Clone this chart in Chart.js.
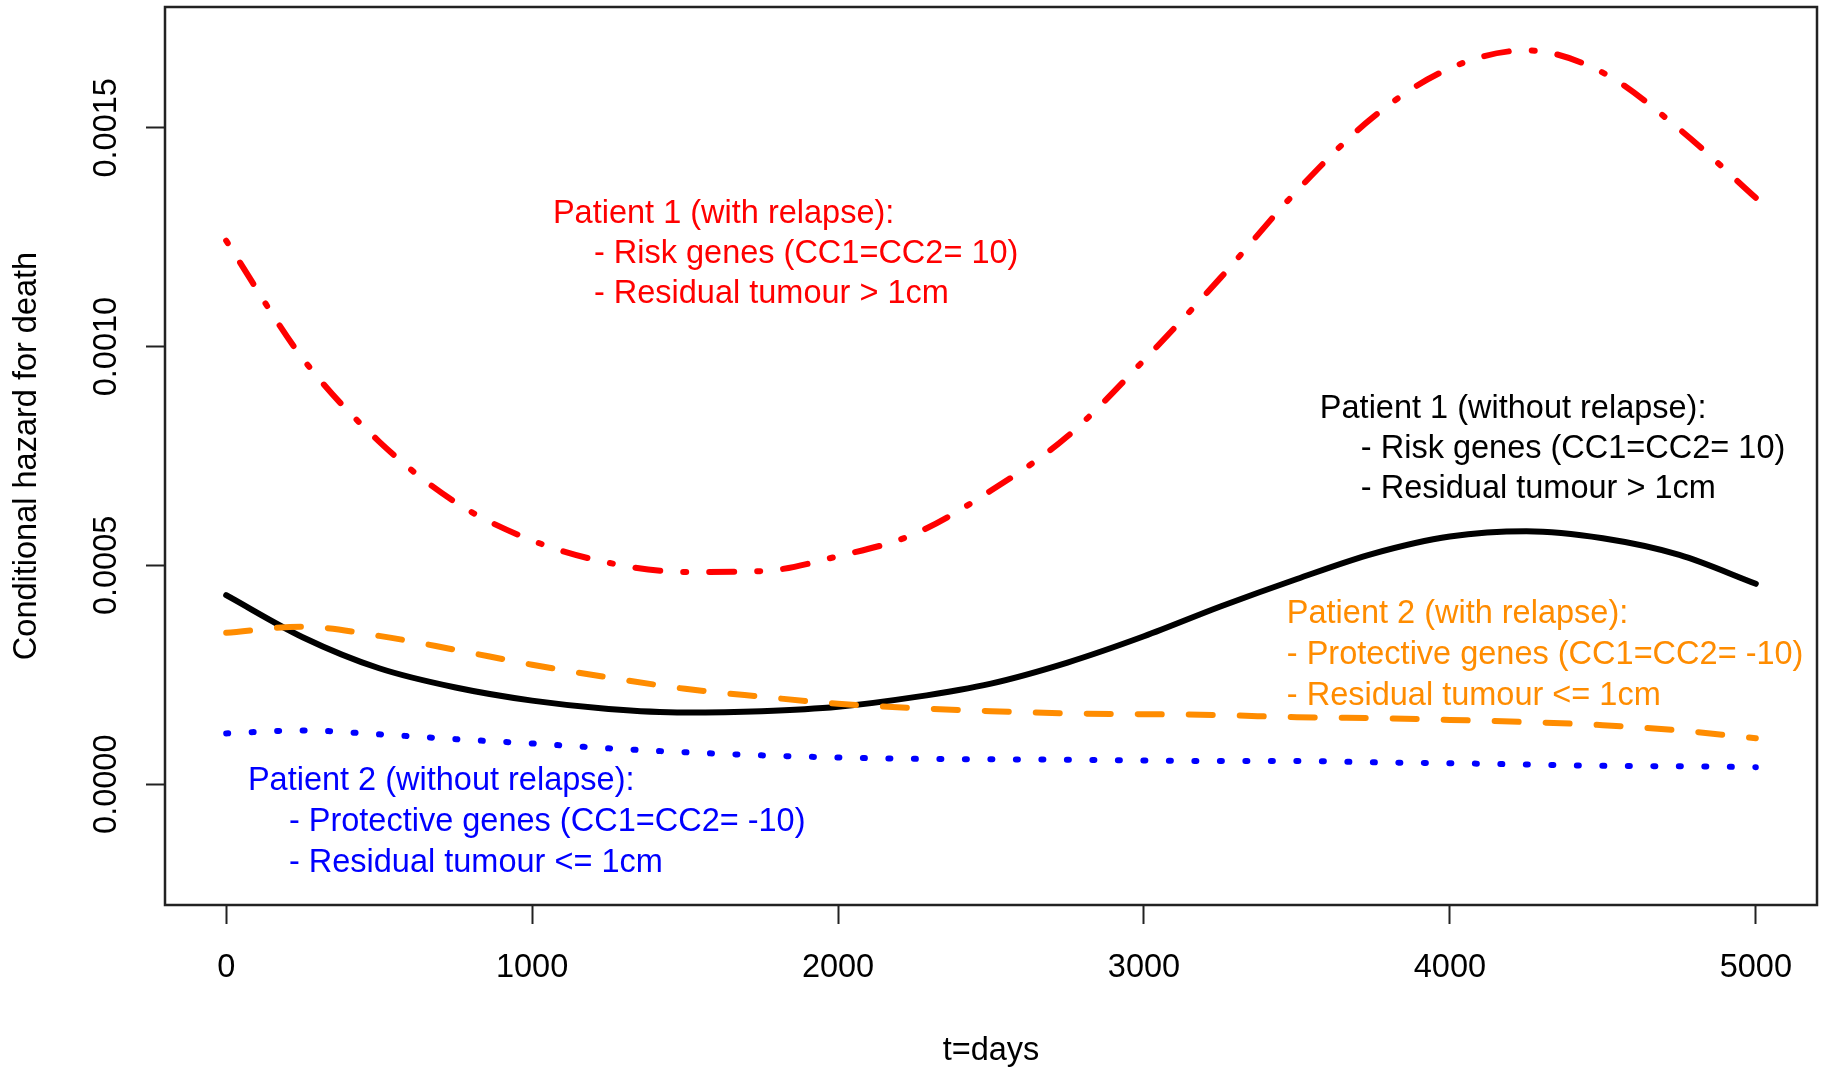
<!DOCTYPE html>
<html>
<head>
<meta charset="utf-8">
<title>Conditional hazard for death</title>
<script src="https://cdn.jsdelivr.net/npm/chart.js@4.4.1/dist/chart.umd.min.js"></script>
<style>
    html, body { margin: 0; padding: 0; background: #fff; }
    #wrap { width: 1832px; height: 1068px; }
</style>
</head>
<body>
<div id="wrap"><canvas id="hazardChart" width="1832" height="1068"></canvas></div>
<script>
// Conditional hazard curves, every 250 days

const days = [0, 250, 500, 750, 1000, 1250, 1500, 1750, 2000, 2250, 2500,
    2750, 3000, 3250, 3500, 3750, 4000, 4250, 4500, 4750, 5000];

const p1WithRelapse = [0.001242, 0.000973, 0.000783, 0.000644, 0.000557, 0.000506, 0.000485,
    0.000487, 0.000521, 0.000572, 0.000671, 0.000795, 0.000969, 0.001157, 0.001356,
    0.001525, 0.001636, 0.001677, 0.001626, 0.001497, 0.001340];

const p1NoRelapse = [0.000432, 0.000336, 0.000265, 0.000221, 0.000191, 0.000172, 0.000164,
    0.000167, 0.000177, 0.000199, 0.000230, 0.000278, 0.000338, 0.000406, 0.000469,
    0.000527, 0.000566, 0.000578, 0.000562, 0.000524, 0.000458];

const p2WithRelapse = [0.000346, 0.000360, 0.000339, 0.000307, 0.000273, 0.000244, 0.000218,
    0.000200, 0.000184, 0.000174, 0.000167, 0.000162, 0.000160, 0.000158, 0.000153,
    0.000151, 0.000147, 0.000142, 0.000135, 0.000123, 0.000105];

const p2NoRelapse = [0.000116, 0.000123, 0.000114, 0.000103, 0.000093, 0.000082, 0.000073,
    0.000066, 0.000061, 0.000058, 0.000057, 0.000056, 0.000054, 0.000053, 0.000053,
    0.000050, 0.000048, 0.000045, 0.000042, 0.000041, 0.000039];

const xTicks = [0, 1000, 2000, 3000, 4000, 5000];
const yTicks = [0, 0.0005, 0.0010, 0.0015];

// R-style limits: data range plus 4% on each side
const xRange = [-200, 5200];
const yRange = [-0.000276, 0.001776];

const noteP1Relapse = ['Patient 1 (with relapse):', '- Risk genes (CC1=CC2= 10)', '- Residual tumour > 1cm'];
const noteP1NoRelapse = ['Patient 1 (without relapse):', '- Risk genes (CC1=CC2= 10)', '- Residual tumour > 1cm'];
const noteP2Relapse = ['Patient 2 (with relapse):', '- Protective genes (CC1=CC2= -10)', '- Residual tumour <= 1cm'];
const noteP2NoRelapse = ['Patient 2 (without relapse):', '- Protective genes (CC1=CC2= -10)', '- Residual tumour <= 1cm'];

const FONT = '"Liberation Sans", Arial, sans-serif';
Chart.defaults.font.family = FONT;

function toPoints(values) {
    return days.map((d, i) => ({ x: d, y: values[i] }));
}

// box round the plot region and the text notes, placed in data units like R's text()
const hazardDecor = {
    id: 'hazardDecor',
    afterDatasetsDraw(chart) {
        const { ctx, chartArea: a, scales: { x, y } } = chart;
        ctx.save();
        ctx.strokeStyle = '#222';
        ctx.lineWidth = 2.5;
        ctx.strokeRect(a.left, a.top, a.right - a.left, a.bottom - a.top);

        const placed = [
            { lines: noteP1Relapse, color: '#ff0000', day: 1068, value: 0.001282, indent: 41, gap: 40 },
            { lines: noteP1NoRelapse, color: '#000000', day: 3575, value: 0.000837, indent: 41, gap: 40 },
            { lines: noteP2Relapse, color: '#ff8c00', day: 3467, value: 0.000368, indent: 0, gap: 41 },
            { lines: noteP2NoRelapse, color: '#0000ff', day: 71, value: -0.0000133, indent: 41, gap: 41 }
        ];
        ctx.font = '32.5px ' + FONT;
        ctx.textAlign = 'left';
        ctx.textBaseline = 'alphabetic';
        placed.forEach(n => {
            const x0 = x.getPixelForValue(n.day);
            const y0 = y.getPixelForValue(n.value);
            ctx.fillStyle = n.color;
            n.lines.forEach((t, i) => ctx.fillText(t, x0 + (i ? n.indent : 0), y0 + i * n.gap));
        });
        ctx.restore();
    }
};

const lineBase = {
    pointRadius: 0,
    borderWidth: 6,
    borderCapStyle: 'round',
    borderJoinStyle: 'round',
    cubicInterpolationMode: 'monotone',
    fill: false
};

new Chart(document.getElementById('hazardChart'), {
    type: 'line',
    data: {
        datasets: [
            { ...lineBase, label: 'Patient 2 (with relapse)', data: toPoints(p2WithRelapse), borderColor: '#ff8c00', borderDash: [24, 27] },
            { ...lineBase, label: 'Patient 2 (without relapse)', data: toPoints(p2NoRelapse), borderColor: '#0000ff', borderDash: [2, 23.5] },
            { ...lineBase, label: 'Patient 1 (without relapse)', data: toPoints(p1NoRelapse), borderColor: '#000000' },
            { ...lineBase, label: 'Patient 1 (with relapse)', data: toPoints(p1WithRelapse), borderColor: '#ff0000', borderDash: [3, 23, 25, 23] }
        ]
    },
    options: {
        responsive: false,
        animation: false,
        devicePixelRatio: 1,
        layout: { padding: { top: 7, right: 15, left: 0, bottom: 0 } },
        plugins: { legend: { display: false }, tooltip: { enabled: false } },
        scales: {
            x: {
                type: 'linear',
                min: xRange[0],
                max: xRange[1],
                afterBuildTicks: s => { s.ticks = xTicks.map(v => ({ value: v })); },
                afterFit: s => { s.height = 163; s.paddingLeft = 0; s.paddingRight = 0; },
                border: { display: false },
                grid: { drawOnChartArea: false, drawTicks: true, tickLength: 19, tickWidth: 2, tickColor: '#222' },
                ticks: { color: '#000', font: { size: 32.5 }, padding: 25, minRotation: 0, maxRotation: 0, autoSkip: false, callback: v => String(v) },
                title: { display: true, text: 't=days', color: '#000', font: { size: 32.5 }, padding: { top: 0, bottom: -3 } }
            },
            y: {
                type: 'linear',
                min: yRange[0],
                max: yRange[1],
                afterBuildTicks: s => { s.ticks = yTicks.map(v => ({ value: v })); },
                afterFit: s => { s.width = 165; s.paddingTop = 0; s.paddingBottom = 0; },
                border: { display: false },
                grid: { drawOnChartArea: false, drawTicks: true, tickLength: 19, tickWidth: 2, tickColor: '#222' },
                ticks: { color: '#000', font: { size: 32.5 }, padding: -11, minRotation: 90, maxRotation: 90, crossAlign: 'center', autoSkip: false, callback: v => v.toFixed(4) },
                title: { display: true, text: 'Conditional hazard for death', color: '#000', font: { size: 32.5 }, padding: { top: 7.5, bottom: 0 } }
            }
        }
    },
    plugins: [hazardDecor]
});
</script>
</body>
</html>
